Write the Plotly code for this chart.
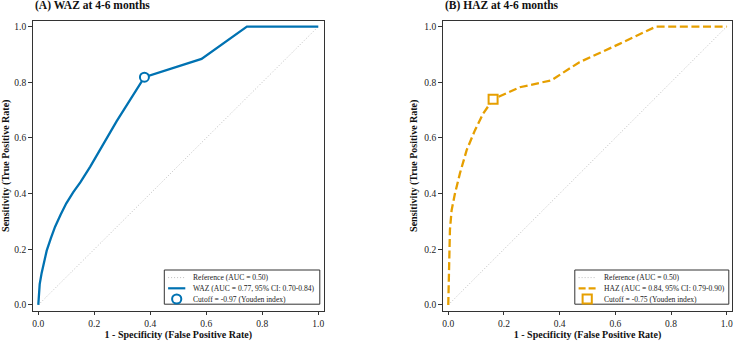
import plotly.graph_objects as go

# ---------------- data ----------------
ref_fpr = [0.0, 1.0]
ref_tpr = [0.0, 1.0]

waz_fpr = [0.0, 0.002, 0.005, 0.012, 0.02, 0.03, 0.045, 0.06, 0.08, 0.10, 0.125, 0.15, 0.185,
           0.22, 0.28, 0.379, 0.583, 0.745, 1.0]
waz_tpr = [0.0, 0.04, 0.075, 0.115, 0.155, 0.195, 0.24, 0.281, 0.325, 0.365, 0.405, 0.44, 0.496,
           0.556, 0.66, 0.818, 0.884, 1.0, 1.0]
waz_cut_fpr = [0.379]
waz_cut_tpr = [0.818]

haz_fpr = [0.0, 0.003, 0.006, 0.012, 0.024, 0.042, 0.066, 0.096, 0.125, 0.161, 0.257, 0.37, 0.471, 0.615, 0.746, 1.0]
haz_tpr = [0.0, 0.14, 0.27, 0.34, 0.40, 0.473, 0.556, 0.628, 0.687, 0.739, 0.782, 0.807, 0.872, 0.938, 1.0, 1.0]
haz_cut_fpr = [0.161]
haz_cut_tpr = [0.739]

panel_titles = ["(A) WAZ at 4-6 months", "(B) HAZ at 4-6 months"]
ref_label = "Reference (AUC = 0.50)"
curve_labels = ["WAZ (AUC = 0.77, 95% CI: 0.70-0.84)", "HAZ (AUC = 0.84, 95% CI: 0.79-0.90)"]
cut_labels = ["Cutoff = -0.97 (Youden index)", "Cutoff = -0.75 (Youden index)"]
tick_vals = [0.0, 0.2, 0.4, 0.6, 0.8, 1.0]
tick_text = ["0.0", "0.2", "0.4", "0.6", "0.8", "1.0"]
x_title = "1 - Specificity (False Positive Rate)"
y_title = "Sensitivity (True Positive Rate)"

# ---------------- styling ----------------
W, H = 735, 341
BLUE = "#0072B2"
ORANGE = "#E69F00"
FRAME = "#333333"
FONT = "Liberation Serif"

def px(x):
    return x / W

def py(y):
    return 1 - y / H

fig = go.Figure()

# Left panel
fig.add_trace(go.Scatter(x=ref_fpr, y=ref_tpr, mode="lines", name=ref_label,
                         line=dict(color="#bdbdbd", width=1, dash="1px,2px"),
                         xaxis="x", yaxis="y", showlegend=False))
fig.add_trace(go.Scatter(x=waz_fpr, y=waz_tpr, mode="lines", name=curve_labels[0],
                         line=dict(color=BLUE, width=2.3, shape="linear"),
                         xaxis="x", yaxis="y", showlegend=False))
fig.add_trace(go.Scatter(x=waz_cut_fpr, y=waz_cut_tpr, mode="markers", name=cut_labels[0],
                         marker=dict(symbol="circle", size=9, color="white",
                                     line=dict(color=BLUE, width=2)),
                         xaxis="x", yaxis="y", showlegend=False))
# Right panel
fig.add_trace(go.Scatter(x=ref_fpr, y=ref_tpr, mode="lines", name=ref_label,
                         line=dict(color="#bdbdbd", width=1, dash="1px,2px"),
                         xaxis="x2", yaxis="y2", showlegend=False))
fig.add_trace(go.Scatter(x=haz_fpr, y=haz_tpr, mode="lines", name=curve_labels[1],
                         line=dict(color=ORANGE, width=2.3, dash="8px,3.6px"),
                         xaxis="x2", yaxis="y2", showlegend=False))
fig.add_trace(go.Scatter(x=haz_cut_fpr, y=haz_cut_tpr, mode="markers", name=cut_labels[1],
                         marker=dict(symbol="square", size=9, color="white",
                                     line=dict(color=ORANGE, width=2)),
                         xaxis="x2", yaxis="y2", showlegend=False))

frames = [(32.7, 323.9), (442.7, 732.3)]
ytop, ybot = 21.0, 310.5

axis_common = dict(
    range=[-0.02, 1.02], tickvals=tick_vals, ticktext=tick_text,
    ticks="outside", ticklen=3.5, tickwidth=1, tickcolor=FRAME,
    showline=True, mirror=True, linecolor=FRAME, linewidth=1.3,
    showgrid=False, zeroline=False, automargin=False,
    tickfont=dict(family=FONT, size=9.5, color="#222222"),
)

for i, (l, r) in enumerate(frames):
    sfx = "" if i == 0 else str(i + 1)
    fig.update_layout(**{
        "xaxis" + sfx: dict(axis_common, domain=[px(l), px(r)], anchor="y" + sfx,
                            title=dict(text=x_title, standoff=3,
                                       font=dict(family=FONT, size=10, color="#111111", weight="bold"))),
        "yaxis" + sfx: dict(axis_common, domain=[py(ybot), py(ytop)], anchor="x" + sfx,
                            title=dict(text=y_title, standoff=4,
                                       font=dict(family=FONT, size=10, color="#111111", weight="bold"))),
    })

annotations = []
shapes = []
for i, (l, r) in enumerate(frames):
    annotations.append(dict(text=panel_titles[i], x=px(l), y=py(5.8), xref="paper", yref="paper",
                            xanchor="left", yanchor="middle", showarrow=False,
                            font=dict(family=FONT, size=11.5, color="#111111", weight="bold")))

# custom compact legends (box in lower right of each panel)
legend_boxes = [(164.3, 319.8), (574.8, 728.8)]
leg_top, leg_bot = 270.0, 304.2
rows = [277.6, 288.3, 299.0]
for i, (bx0, bx1) in enumerate(legend_boxes):
    color = BLUE if i == 0 else ORANGE
    shapes.append(dict(type="rect", xref="paper", yref="paper",
                       x0=px(bx0), x1=px(bx1), y0=py(leg_bot), y1=py(leg_top),
                       line=dict(color=FRAME, width=1), fillcolor="rgba(255,255,255,0.9)", layer="above"))
    sx0, sx1 = bx0 + 3.8, bx0 + 21.0
    # reference sample
    shapes.append(dict(type="line", xref="paper", yref="paper",
                       x0=px(sx0), x1=px(sx1), y0=py(rows[0]), y1=py(rows[0]),
                       line=dict(color="#bdbdbd", width=1, dash="1px,2px"), layer="above"))
    # curve sample
    shapes.append(dict(type="line", xref="paper", yref="paper",
                       x0=px(sx0), x1=px(sx1), y0=py(rows[1]), y1=py(rows[1]),
                       line=dict(color=color, width=2.2, dash="solid" if i == 0 else "7px,3px"),
                       layer="above"))
    # marker sample
    cx, cy, rr = bx0 + 12.4, rows[2], 4.6
    shapes.append(dict(type="circle" if i == 0 else "rect", xref="paper", yref="paper",
                       x0=px(cx - rr), x1=px(cx + rr), y0=py(cy + rr), y1=py(cy - rr),
                       line=dict(color=color, width=2), fillcolor="white", layer="above"))
    labels = [ref_label, curve_labels[i], cut_labels[i]]
    for ry, lab in zip(rows, labels):
        annotations.append(dict(text=lab, x=px(bx0 + 26.7), y=py(ry), xref="paper", yref="paper",
                                xanchor="left", yanchor="middle", showarrow=False,
                                font=dict(family=FONT, size=7.6, color="#222222")))

fig.update_layout(
    width=W, height=H,
    margin=dict(l=0, r=0, t=0, b=0),
    paper_bgcolor="white", plot_bgcolor="white",
    showlegend=False,
    annotations=annotations, shapes=shapes,
    font=dict(family=FONT),
)

fig.write_html("out.html")
